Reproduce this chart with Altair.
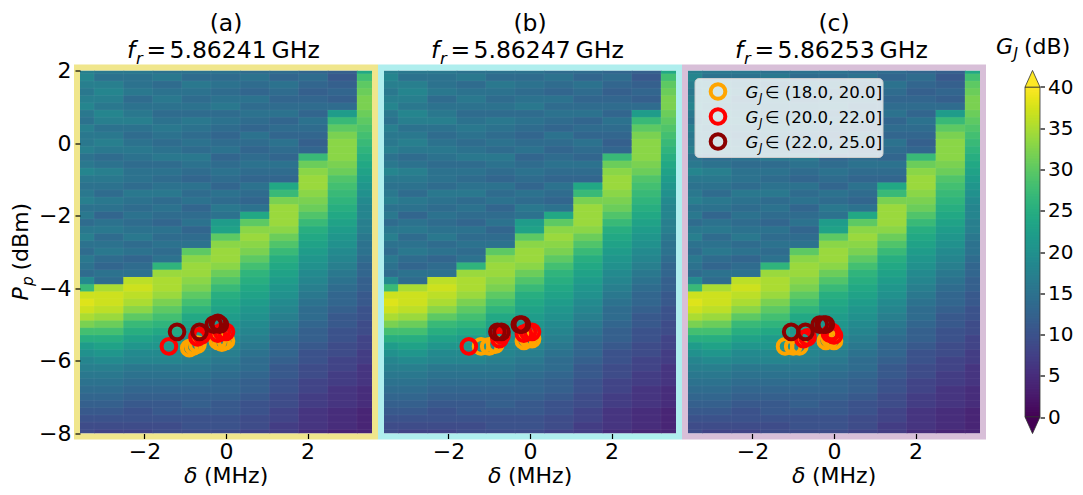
import altair as alt
import pandas as pd

# ---------------- data ----------------
W, H = 292, 363
X_CENTERS = [-3.58, -2.864, -2.148, -1.432, -0.716, 0.0, 0.716, 1.432, 2.148, 2.864, 3.58]
X_HALF = 0.358
Y_CENTERS = [round(2.0 - 0.2 * i, 1) for i in range(51)]   # 2.0 ... -8.0
Y_HALF = 0.1

# gain G_J (dB) per detuning column, rows from P_p = 2.0 down to -8.0 dBm
G_C0 = [17,18,17,16,17,18,16,15,17,16, 16,17,15,16,18,16,15,16,17,15, 16,14,16,17,15,14,16,15,14,19,
        27,37,38,37,35,32,28,25,22,20, 18,17,16,15,14,13,12,11,10,9,9]
G_C1 = [16,15,17,18,17,16,18,17,15,16, 17,16,14,15,17,16,15,14,16,15, 13,15,16,14,15,16,14,13,15,14,
        35,37,37,36,34,31,28,25,23,21, 19,17,16,15,14,13,12,11,10,9,8]
G_C2 = [16,15,15,16,14,15,16,17,15,14, 15,16,15,14,15,15,14,16,15,14, 15,14,15,16,14,15,13,14,15,
        36,37,36,35,33,30,27,25,23,21, 19,18,16,15,14,13,12,11,10,10, 9,8]
G_C3 = [15,16,14,15,16,15,14,15,16,15, 14,15,16,14,15,14,15,16,14,15, 14,13,15,14,15,14,15,
        26,34,35,35,34,32,30,28,26,24, 22,21,19,18,16,15,14,13,12,11, 11,10,9,9]
G_C4 = [15,14,16,15,14,15,14,16,15,14, 15,14,16,15,14,13,15,14,15,13, 14,15,13,14,15,
        30,33,34,34,33,32,30,28,26,24, 23,21,20,19,18,17,16,15,14,13, 12,12,11,10,10,9]
G_C5 = [15,14,15,14,15,16,14,15,14,13, 14,15,13,14,15,14,13,15,14,16, 15,
        22,23,30,33,34,34,33,31,29,27, 25,24,23,22,21,20,19,18,17,16, 15,14,13,13,12,11,11,10,10,9]
G_C6 = [14,15,14,13,15,14,15,14,13,15, 14,13,14,15,14,13,15,14,13,15,
        24,30,33,34,33,32,30,28,26,25, 24,23,22,21,20,19,18,17,16,15, 14,14,13,12,12,11,10,10,9,9,8]
G_C7 = [14,13,15,14,13,14,15,13,14,13, 15,14,13,15,14,13,
        24,27,32,34,34,34,33,31,29,27, 25,24,23,22,21,20,19,18,17,16, 15,14,13,13,12,11,11,10,10,9,
        9,8,8,7,7]
G_C8 = [13,14,13,12,13,14,13,15,14,13, 12,13,
        27,31,33,34,34,33,32,31,29,27, 25,24,23,22,21,20,19,18,17,16, 15,14,14,13,12,12,11,10,10,9,
        9,8,8,7,7,6,6,6,5]
G_C9 = [12,11,12,13,12,14,
        22,27,30,32,33,33,33,32,31,29, 28,27,26,25,24,23,22,21,20,19, 18,17,16,15,14,13,13,12,11,11,
        10,10,9,9,8,8,7,7,6,6, 6,5,5,5,4]
G_C10 = [24,28,30,31,32,32,31,30,29,28, 27,26,25,24,23,22,21,20,19,18, 18,17,17,16,15,15,14,13,13,12,
         12,11,11,10,10,9,9,8,8,7, 7,6,6,6,5,5,5,4,4,4,4]
COLS = [G_C0, G_C1, G_C2, G_C3, G_C4, G_C5, G_C6, G_C7, G_C8, G_C9, G_C10]

CATS = ["(18.0, 20.0]", "(20.0, 22.0]", "(22.0, 25.0]"]
CAT_COLORS = ["#ffa500", "#ff0000", "#8b0000"]

LETTERS = ["(a)", "(b)", "(c)"]
FREQS = ["5.86241", "5.86247", "5.86253"]
BORDERS = ["#f0e68c", "#afeeee", "#d8bfd8"]

# operating points (delta MHz, P_p dBm), category index
A_X = [-0.9, -0.8, -0.7, -0.2, -0.1, 0.0,   -1.4, -0.7, -0.6, -0.2, -0.1, 0.0,   -1.2, -0.65, -0.3, -0.2, -0.15]
A_Y = [-5.65, -5.6, -5.55, -5.45, -5.5, -5.45, -5.6, -5.35, -5.3, -5.25, -5.2, -5.2, -5.2, -5.2, -5.0, -4.95, -5.0]
A_C = [0, 0, 0, 0, 0, 0, 1, 1, 1, 1, 1, 1, 2, 2, 2, 2, 2]

B_X = [-1.2, -1.0, -0.85, -0.15, -0.05, 0.05,  -1.5, -0.75, -0.7, -0.15, -0.05, 0.05,  -0.8, -0.7, -0.25, -0.2]
B_Y = [-5.6, -5.6, -5.55, -5.45, -5.4, -5.4,   -5.6, -5.4, -5.3, -5.25, -5.2, -5.2,    -5.2, -5.2, -5.0, -5.0]
B_C = [0, 0, 0, 0, 0, 0, 1, 1, 1, 1, 1, 1, 2, 2, 2, 2]

C_X = [-1.2, -1.0, -0.85, -0.2, -0.1, 0.0,   -0.75, -0.65, -0.1, -0.05, 0.0,   -1.05, -0.7, -0.35, -0.25, -0.2]
C_Y = [-5.6, -5.6, -5.6, -5.45, -5.4, -5.45, -5.4, -5.35, -5.25, -5.2, -5.3,   -5.2, -5.2, -5.0, -5.0, -5.0]
C_C = [0, 0, 0, 0, 0, 0, 1, 1, 1, 1, 1, 2, 2, 2, 2, 2]

MARKERS = [(A_X, A_Y, A_C), (B_X, B_Y, B_C), (C_X, C_Y, C_C)]

X_TICKS = [-2, 0, 2]
Y_TICKS = [-8, -6, -4, -2, 0, 2]
CB_TICKS = [0, 5, 10, 15, 20, 25, 30, 35, 40]
G_MIN, G_MAX = 0, 40

# ---------------- styling ----------------
FONT = "DejaVu Sans"
TICK_FS = 22
CB_TICK_FS = 20
LABEL_FS = 22
TITLE_FS = 23.5
LEG_FS = 16.6
MSIZE = 215
MSTROKE = 4
SPACING = 12
SEAM = 0.012   # tiny overlap between neighbouring cells to avoid anti-alias gaps
T2 = -12.5     # baseline of the f_r line (px above the plot)
T1 = -40       # baseline of the (a) line

rows = []
for xc, col in zip(X_CENTERS, COLS):
    for yc, g in zip(Y_CENTERS, col):
        rows.append(dict(x1=xc - X_HALF - SEAM, x2=xc + X_HALF + SEAM,
                         y1=yc - Y_HALF - SEAM, y2=yc + Y_HALF + SEAM, g=g))
heat_df = pd.DataFrame(rows)

xscale = alt.Scale(domain=[X_CENTERS[0], X_CENTERS[-1]], nice=False, zero=False)
yscale = alt.Scale(domain=[Y_CENTERS[-1], Y_CENTERS[0]], nice=False, zero=False)
fscale = alt.Scale(scheme="viridis", domain=[G_MIN, G_MAX], clamp=True)
sscale = alt.Scale(domain=CATS, range=CAT_COLORS)


def xaxis():
    return alt.Axis(values=X_TICKS, title=None, tickSize=5, tickWidth=1.2, tickColor="black",
                    labelFontSize=TICK_FS, labelColor="black", labelPadding=3, labelFont=FONT,
                    domain=False, grid=False, zindex=1)


def yaxis(show):
    if not show:
        return None
    return alt.Axis(values=Y_TICKS, title=None, tickSize=5, tickWidth=1.2, tickColor="black",
                    labelFontSize=TICK_FS, labelColor="black", labelPadding=4, labelFont=FONT,
                    domain=False, grid=False, zindex=1)


def txt(s, x, y, size, italic=False, align="left", baseline="alphabetic", angle=0):
    return alt.Chart(pd.DataFrame({"t": [s]})).mark_text(
        align=align, baseline=baseline, fontSize=size, font=FONT,
        fontStyle="italic" if italic else "normal", angle=angle, color="black"
    ).encode(text="t:N", x=alt.value(x), y=alt.value(y))


def panel(k):
    show_y = k == 0
    mx, my, mc = MARKERS[k]
    mdf = pd.DataFrame({"x": mx, "y": my, "ci": mc})
    mdf = mdf.sort_values("ci", kind="stable")
    mdf["cat"] = [CATS[i] for i in mdf["ci"]]

    heat = alt.Chart(heat_df).mark_rect(clip=True, stroke="white", strokeOpacity=0.1,
                                        strokeWidth=0.5).encode(
        x=alt.X("x1:Q", scale=xscale, axis=xaxis()),
        x2="x2:Q",
        y=alt.Y("y1:Q", scale=yscale, axis=yaxis(show_y)),
        y2="y2:Q",
        fill=alt.Fill("g:Q", scale=fscale, legend=None),
    )
    border = alt.Chart(pd.DataFrame({"b": [0]})).mark_rect(
        fillOpacity=0, stroke=BORDERS[k], strokeWidth=6, clip=False
    ).encode(x=alt.value(-3), x2=alt.value(W + 3), y=alt.value(-3), y2=alt.value(H + 3))

    pts = alt.Chart(mdf).mark_point(shape="circle", filled=False, size=MSIZE,
                                    strokeWidth=MSTROKE, opacity=1).encode(
        x=alt.X("x:Q", scale=xscale, axis=xaxis()),
        y=alt.Y("y:Q", scale=yscale, axis=yaxis(show_y)),
        stroke=alt.Stroke("cat:N", scale=sscale, legend=None),
    )

    layers = [heat, border, pts]

    # panel title: "(a)" and f_r = ... GHz
    layers.append(txt(LETTERS[k], W / 2, T1, TITLE_FS, align="center"))
    layers.append(txt("f", 47, T2, TITLE_FS, italic=True))
    layers.append(txt("r", 56, T2 + 5.5, TITLE_FS * 0.7, italic=True))
    layers.append(txt("=", 66.5, T2, TITLE_FS))
    layers.append(txt(FREQS[k], 89.5, T2, TITLE_FS))
    layers.append(txt("GHz", 191.5, T2, TITLE_FS))

    # x-axis title  δ (MHz)
    layers.append(txt("δ", 104, H + 49, LABEL_FS, italic=True))
    layers.append(txt("(MHz)", 124, H + 49, LABEL_FS))

    if show_y:
        # y-axis title P_p (dBm), rotated
        c = H / 2
        layers.append(txt("P", -52, c + 48.5, LABEL_FS, italic=True, angle=270))
        layers.append(txt("p", -47, c + 34, LABEL_FS * 0.7, italic=True, angle=270))
        layers.append(txt("(dBm)", -52, c + 18.5, LABEL_FS, angle=270))

    if k == 2:
        # legend box
        layers.append(alt.Chart(pd.DataFrame({"b": [0]})).mark_rect(
            fill="white", fillOpacity=0.8, stroke="#cccccc", strokeWidth=1, cornerRadius=4
        ).encode(x=alt.value(7), x2=alt.value(195), y=alt.value(8), y2=alt.value(87)))
        for j, (cat, py) in enumerate(zip(CATS, [21, 46, 71])):
            layers.append(alt.Chart(pd.DataFrame({"cat": [cat]})).mark_point(
                shape="circle", filled=False, size=MSIZE, strokeWidth=MSTROKE, opacity=1
            ).encode(x=alt.value(30), y=alt.value(py),
                     stroke=alt.Stroke("cat:N", scale=sscale, legend=None)))
            layers.append(txt("G", 57.5, py + 6, LEG_FS, italic=True))
            layers.append(txt("J", 71, py + 10, LEG_FS * 0.7, italic=True))
            layers.append(txt("∈ " + cat, 77, py + 6, LEG_FS))

    return alt.layer(*layers).properties(width=W, height=H)


# ---------------- colour bar ----------------
CB_X0 = 33
CB_W = 48
cb_v = [i * 0.2 for i in range(200)]
cb_df = pd.DataFrame({"v": cb_v, "v2": [v + 0.3 for v in cb_v], "g": [v + 0.1 for v in cb_v]})
cbscale = alt.Scale(domain=[G_MIN - 2, G_MAX + 2], nice=False, zero=False)
cb_axis = alt.Axis(orient="right", values=CB_TICKS, title=None, tickSize=4.5, tickWidth=1.2,
                   tickColor="black", labelFontSize=CB_TICK_FS, labelColor="black", labelFont=FONT,
                   labelPadding=3, domain=False, grid=False, zindex=1)

cb_bar = alt.Chart(cb_df).mark_rect().encode(
    x=alt.value(CB_X0), x2=alt.value(CB_W),
    y=alt.Y("v:Q", scale=cbscale, axis=cb_axis), y2=alt.Y2("v2:Q"),
    fill=alt.Fill("g:Q", scale=fscale, legend=None),
)
cb_outline = alt.Chart(pd.DataFrame({"a": [G_MIN], "b": [G_MAX]})).mark_rect(
    fillOpacity=0, stroke="#333333", strokeWidth=0.8
).encode(x=alt.value(CB_X0), x2=alt.value(CB_W),
         y=alt.Y("a:Q", scale=cbscale, axis=cb_axis), y2="b:Q")
tri_up = alt.Chart(pd.DataFrame({"v": [G_MAX + 1], "g": [G_MAX]})).mark_point(
    shape="M-1,1.111L0,-1.111L1,1.111Z", filled=True, size=225, stroke="#333333",
    strokeWidth=0.8, opacity=1
).encode(x=alt.value((CB_X0 + CB_W) / 2), y=alt.Y("v:Q", scale=cbscale, axis=cb_axis),
         fill=alt.Fill("g:Q", scale=fscale, legend=None))
tri_dn = alt.Chart(pd.DataFrame({"v": [G_MIN - 1], "g": [G_MIN]})).mark_point(
    shape="M-1,-1.111L0,1.111L1,-1.111Z", filled=True, size=225, stroke="#333333",
    strokeWidth=0.8, opacity=1
).encode(x=alt.value((CB_X0 + CB_W) / 2), y=alt.Y("v:Q", scale=cbscale, axis=cb_axis),
         fill=alt.Fill("g:Q", scale=fscale, legend=None))

cb = alt.layer(
    cb_bar, cb_outline, tri_up, tri_dn,
    txt("G", 4, -17, LABEL_FS, italic=True),
    txt("J", 21.5, -12, LABEL_FS * 0.7, italic=True),
    txt("(dB)", 32, -17, LABEL_FS),
).properties(width=CB_W, height=H)

chart = alt.HConcatChart(
    hconcat=[panel(0), panel(1), panel(2), cb], spacing=SPACING, bounds="flush"
).properties(
    padding={"left": 2, "top": 3.5, "right": 0, "bottom": 0.5}
).configure(font=FONT, background="white").configure_view(stroke="transparent", strokeWidth=0)

chart.save("out.html", embed_options={"renderer": "svg", "actions": False})
